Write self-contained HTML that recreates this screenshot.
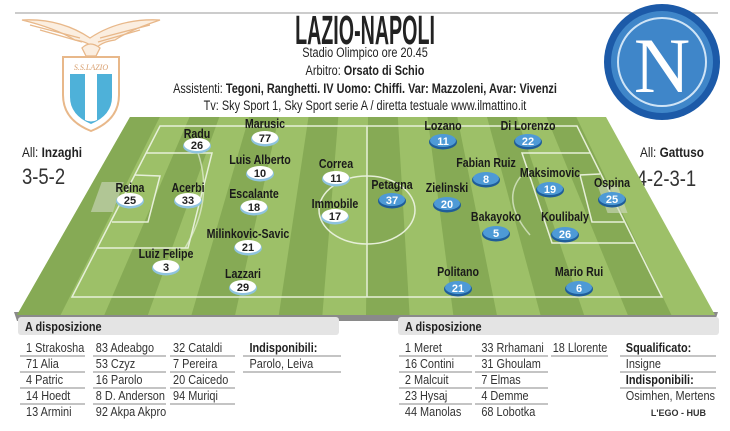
<!DOCTYPE html>
<html><head><meta charset="utf-8"><style>
html,body{margin:0;padding:0;background:#fff;}
svg{display:block;}
text{font-family:"Liberation Sans Narrow","Liberation Sans",sans-serif;}
.n{font-size:12.5px;font-weight:bold;fill:#1a1a1a;text-anchor:middle;}
.bw{font-size:11px;font-weight:bold;fill:#222;text-anchor:middle;}
.bb{font-size:11px;font-weight:bold;fill:#fff;text-anchor:middle;}
.t{font-size:13px;fill:#333;}
.h{font-size:14px;fill:#222;text-anchor:middle;}
</style></head><body>
<svg width="730" height="431" viewBox="0 0 730 431" xmlns="http://www.w3.org/2000/svg">
<line x1="15" y1="13" x2="718" y2="13" stroke="#bbb" stroke-width="1.5"/>
<!-- Lazio logo -->
<g fill="none" stroke="#e8b88a" stroke-width="1.3">
<path d="M22 20 Q60 18 90 38 Q120 18 160 20 Q130 30 115 40 Q100 42 95 50 Q90 42 75 40 Q55 28 22 20Z" fill="#fbeee0"/>
<path d="M30 25 L80 38 M40 30 L82 42 M150 25 L100 38 M140 30 L98 42"/>
<path d="M82 48 Q90 40 100 48 L96 56 L86 56Z" fill="#fbeee0"/>
<path d="M63 57 L119 57 L119 95 Q119 120 91 131 Q63 120 63 95Z" fill="#fff" stroke="#e8b88a" stroke-width="2"/>
</g>
<text x="91" y="70" font-size="8" font-style="italic" fill="#d9a070" text-anchor="middle" style="font-family:'Liberation Serif',serif">S.S.LAZIO</text>
<path d="M70 74 L112 74 L112 97 Q112 115 91 124 Q70 115 70 97Z" fill="#4eb1d9"/>
<path d="M85 74 L97 74 L97 120 Q91 123 85 120Z" fill="#fff"/>
<!-- Napoli logo -->
<circle cx="662" cy="62" r="58" fill="#1c5aa8"/>
<circle cx="662" cy="62" r="51" fill="#3f86c9"/>
<circle cx="662" cy="62" r="44" fill="none" stroke="#cfe4f6" stroke-width="2"/>
<text x="662" y="92" font-size="78" fill="#fff" text-anchor="middle" style="font-family:'Liberation Serif',serif">N</text>
<!-- title -->
<text x="365" y="44" font-size="41" font-weight="bold" fill="#222" text-anchor="middle" transform="translate(365,0) scale(0.48,1) translate(-365,0)">LAZIO-NAPOLI</text>
<g transform="translate(365,0) scale(0.78,1) translate(-365,0)">
<text class="h" x="365" y="57">Stadio Olimpico ore 20.45</text>
<text class="h" x="365" y="75">Arbitro: <tspan font-weight="bold">Orsato di Schio</tspan></text>
<text class="h" x="365" y="93">Assistenti: <tspan font-weight="bold">Tegoni, Ranghetti. IV Uomo: Chiffi. Var: Mazzoleni, Avar: Vivenzi</tspan></text>
<text class="h" x="365" y="110">Tv: Sky Sport 1, Sky Sport serie A / diretta testuale www.ilmattino.it</text>
</g>
<!-- coaches -->
<g transform="translate(22,0) scale(0.84,1)">
<text x="0" y="157" font-size="14" fill="#222">All: <tspan font-weight="bold">Inzaghi</tspan></text>
<text x="0" y="184" font-size="22" fill="#333">3-5-2</text></g>
<g transform="translate(640,0) scale(0.84,1)">
<text x="0" y="157" font-size="14" fill="#222">All: <tspan font-weight="bold">Gattuso</tspan></text>
<text x="-4" y="186" font-size="22" fill="#333">4-2-3-1</text></g>
<!-- pitch -->
<polygon points="14,312 17,321 715,321 718,312" fill="#8a8a8a"/>
<g id="pitch">
<polygon points="130,117 606,117 715,315 17,315" fill="#9dc068"/>
<polygon points="130.0,117 159.8,117 60.6,315 17.0,315" fill="#86aa55"/>
<polygon points="189.5,117 219.3,117 147.9,315 104.3,315" fill="#86aa55"/>
<polygon points="249.0,117 278.8,117 235.1,315 191.5,315" fill="#86aa55"/>
<polygon points="308.5,117 338.3,117 322.4,315 278.8,315" fill="#86aa55"/>
<polygon points="368.0,117 397.8,117 409.6,315 366.0,315" fill="#86aa55"/>
<polygon points="427.5,117 457.3,117 496.9,315 453.3,315" fill="#86aa55"/>
<polygon points="487.0,117 516.8,117 584.1,315 540.5,315" fill="#86aa55"/>
<polygon points="546.5,117 576.3,117 671.4,315 627.8,315" fill="#86aa55"/>
</g>
<g fill="none" stroke="#e6efd8" stroke-width="1.5">
<polygon points="160,126 577,126 662,297 72,297"/>
<line x1="367" y1="126" x2="367" y2="297"/>
<ellipse cx="367" cy="210" rx="48" ry="34"/>
<polyline points="146,153 212,153 188,248 97,248"/>
<polyline points="135,175 160,176 148,222 112,222"/>
<polyline points="590,153 522,153 552,243 635,243"/>
<polyline points="600,174 580,175 592,222 624,222"/>
<path d="M198 153 Q214 200 185 248" opacity=".7"/>
<path d="M522 175 Q500 200 530 235" opacity=".7"/>
</g>
<rect x="98" y="182" width="22" height="30" fill="#cfd8c0" opacity=".6" transform="skewX(-20) translate(70,0)"/>
<rect x="600" y="185" width="20" height="28" fill="#cfd8c0" opacity=".6" transform="skewX(20) translate(-70,0)"/>
<!-- Lazio players -->
<g id="laz">
<g transform="translate(197,0)"><text class="n" x="0" y="138" transform="scale(.85,1)">Radu</text><ellipse cx="0" cy="146" rx="14" ry="7.5" fill="#8fc3de"/><ellipse cx="0" cy="144.5" rx="13" ry="6.5" fill="#fff"/><text class="bw" x="0" y="149">26</text></g>
<g transform="translate(265,0)"><text class="n" x="0" y="128" transform="scale(.85,1)">Marusic</text><ellipse cx="0" cy="139" rx="14" ry="7.5" fill="#8fc3de"/><ellipse cx="0" cy="137.5" rx="13" ry="6.5" fill="#fff"/><text class="bw" x="0" y="142">77</text></g>
<g transform="translate(260,0)"><text class="n" x="0" y="164" transform="scale(.85,1)">Luis Alberto</text><ellipse cx="0" cy="174" rx="14" ry="7.5" fill="#8fc3de"/><ellipse cx="0" cy="172.5" rx="13" ry="6.5" fill="#fff"/><text class="bw" x="0" y="177">10</text></g>
<g transform="translate(336,0)"><text class="n" x="0" y="168" transform="scale(.85,1)">Correa</text><ellipse cx="0" cy="179" rx="14" ry="7.5" fill="#8fc3de"/><ellipse cx="0" cy="177.5" rx="13" ry="6.5" fill="#fff"/><text class="bw" x="0" y="182">11</text></g>
<g transform="translate(130,0)"><text class="n" x="0" y="192" transform="scale(.85,1)">Reina</text><ellipse cx="0" cy="201" rx="14" ry="7.5" fill="#8fc3de"/><ellipse cx="0" cy="199.5" rx="13" ry="6.5" fill="#fff"/><text class="bw" x="0" y="204">25</text></g>
<g transform="translate(188,0)"><text class="n" x="0" y="192" transform="scale(.85,1)">Acerbi</text><ellipse cx="0" cy="201" rx="14" ry="7.5" fill="#8fc3de"/><ellipse cx="0" cy="199.5" rx="13" ry="6.5" fill="#fff"/><text class="bw" x="0" y="204">33</text></g>
<g transform="translate(254,0)"><text class="n" x="0" y="198" transform="scale(.85,1)">Escalante</text><ellipse cx="0" cy="208" rx="14" ry="7.5" fill="#8fc3de"/><ellipse cx="0" cy="206.5" rx="13" ry="6.5" fill="#fff"/><text class="bw" x="0" y="211">18</text></g>
<g transform="translate(335,0)"><text class="n" x="0" y="208" transform="scale(.85,1)">Immobile</text><ellipse cx="0" cy="217" rx="14" ry="7.5" fill="#8fc3de"/><ellipse cx="0" cy="215.5" rx="13" ry="6.5" fill="#fff"/><text class="bw" x="0" y="220">17</text></g>
<g transform="translate(248,0)"><text class="n" x="0" y="238" transform="scale(.85,1)">Milinkovic-Savic</text><ellipse cx="0" cy="248" rx="14" ry="7.5" fill="#8fc3de"/><ellipse cx="0" cy="246.5" rx="13" ry="6.5" fill="#fff"/><text class="bw" x="0" y="251">21</text></g>
<g transform="translate(166,0)"><text class="n" x="0" y="258" transform="scale(.85,1)">Luiz Felipe</text><ellipse cx="0" cy="268" rx="14" ry="7.5" fill="#8fc3de"/><ellipse cx="0" cy="266.5" rx="13" ry="6.5" fill="#fff"/><text class="bw" x="0" y="271">3</text></g>
<g transform="translate(243,0)"><text class="n" x="0" y="278" transform="scale(.85,1)">Lazzari</text><ellipse cx="0" cy="288" rx="14" ry="7.5" fill="#8fc3de"/><ellipse cx="0" cy="286.5" rx="13" ry="6.5" fill="#fff"/><text class="bw" x="0" y="291">29</text></g>
</g>
<!-- Napoli players -->
<g>
<g transform="translate(443,0)"><text class="n" x="0" y="130" transform="scale(.85,1)">Lozano</text><ellipse cx="0" cy="142" rx="14" ry="7.5" fill="#1f5d99"/><ellipse cx="0" cy="140.5" rx="13" ry="6.5" fill="#4e9ad6"/><text class="bb" x="0" y="145">11</text></g>
<g transform="translate(528,0)"><text class="n" x="0" y="130" transform="scale(.85,1)">Di Lorenzo</text><ellipse cx="0" cy="142" rx="14" ry="7.5" fill="#1f5d99"/><ellipse cx="0" cy="140.5" rx="13" ry="6.5" fill="#4e9ad6"/><text class="bb" x="0" y="145">22</text></g>
<g transform="translate(486,0)"><text class="n" x="0" y="167" transform="scale(.85,1)">Fabian Ruiz</text><ellipse cx="0" cy="180" rx="14" ry="7.5" fill="#1f5d99"/><ellipse cx="0" cy="178.5" rx="13" ry="6.5" fill="#4e9ad6"/><text class="bb" x="0" y="183">8</text></g>
<g transform="translate(550,0)"><text class="n" x="0" y="177" transform="scale(.85,1)">Maksimovic</text><ellipse cx="0" cy="190" rx="14" ry="7.5" fill="#1f5d99"/><ellipse cx="0" cy="188.5" rx="13" ry="6.5" fill="#4e9ad6"/><text class="bb" x="0" y="193">19</text></g>
<g transform="translate(612,0)"><text class="n" x="0" y="187" transform="scale(.85,1)">Ospina</text><ellipse cx="0" cy="200" rx="14" ry="7.5" fill="#1f5d99"/><ellipse cx="0" cy="198.5" rx="13" ry="6.5" fill="#4e9ad6"/><text class="bb" x="0" y="203">25</text></g>
<g transform="translate(392,0)"><text class="n" x="0" y="189" transform="scale(.85,1)">Petagna</text><ellipse cx="0" cy="201" rx="14" ry="7.5" fill="#1f5d99"/><ellipse cx="0" cy="199.5" rx="13" ry="6.5" fill="#4e9ad6"/><text class="bb" x="0" y="204">37</text></g>
<g transform="translate(447,0)"><text class="n" x="0" y="192" transform="scale(.85,1)">Zielinski</text><ellipse cx="0" cy="205" rx="14" ry="7.5" fill="#1f5d99"/><ellipse cx="0" cy="203.5" rx="13" ry="6.5" fill="#4e9ad6"/><text class="bb" x="0" y="208">20</text></g>
<g transform="translate(496,0)"><text class="n" x="0" y="221" transform="scale(.85,1)">Bakayoko</text><ellipse cx="0" cy="234" rx="14" ry="7.5" fill="#1f5d99"/><ellipse cx="0" cy="232.5" rx="13" ry="6.5" fill="#4e9ad6"/><text class="bb" x="0" y="237">5</text></g>
<g transform="translate(565,0)"><text class="n" x="0" y="221" transform="scale(.85,1)">Koulibaly</text><ellipse cx="0" cy="235" rx="14" ry="7.5" fill="#1f5d99"/><ellipse cx="0" cy="233.5" rx="13" ry="6.5" fill="#4e9ad6"/><text class="bb" x="0" y="238">26</text></g>
<g transform="translate(458,0)"><text class="n" x="0" y="276" transform="scale(.85,1)">Politano</text><ellipse cx="0" cy="289" rx="14" ry="7.5" fill="#1f5d99"/><ellipse cx="0" cy="287.5" rx="13" ry="6.5" fill="#4e9ad6"/><text class="bb" x="0" y="292">21</text></g>
<g transform="translate(579,0)"><text class="n" x="0" y="276" transform="scale(.85,1)">Mario Rui</text><ellipse cx="0" cy="289" rx="14" ry="7.5" fill="#1f5d99"/><ellipse cx="0" cy="287.5" rx="13" ry="6.5" fill="#4e9ad6"/><text class="bb" x="0" y="292">6</text></g>
</g>
<!-- bottom bars -->
<rect x="18" y="317" width="321" height="18" rx="3" fill="#e4e4e4"/>
<rect x="398" y="317" width="321" height="18" rx="3" fill="#e4e4e4"/>
<text x="25" y="331" font-size="13" font-weight="bold" fill="#222" transform="translate(25,0) scale(.84,1) translate(-25,0)">A disposizione</text>
<text x="405" y="331" font-size="13" font-weight="bold" fill="#222" transform="translate(405,0) scale(.84,1) translate(-405,0)">A disposizione</text>
<g stroke="#888" stroke-width="1">
<line x1="20" y1="356" x2="85" y2="356"/><line x1="20" y1="372" x2="85" y2="372"/><line x1="20" y1="388" x2="85" y2="388"/><line x1="20" y1="404" x2="85" y2="404"/>
<line x1="93" y1="356" x2="166" y2="356"/><line x1="93" y1="372" x2="166" y2="372"/><line x1="93" y1="388" x2="166" y2="388"/><line x1="93" y1="404" x2="166" y2="404"/>
<line x1="170" y1="356" x2="235" y2="356"/><line x1="170" y1="372" x2="235" y2="372"/><line x1="170" y1="388" x2="235" y2="388"/><line x1="170" y1="404" x2="235" y2="404"/>
<line x1="243" y1="356" x2="341" y2="356"/><line x1="243" y1="372" x2="341" y2="372"/>
<line x1="399" y1="356" x2="472" y2="356"/><line x1="399" y1="372" x2="472" y2="372"/><line x1="399" y1="388" x2="472" y2="388"/><line x1="399" y1="404" x2="472" y2="404"/>
<line x1="475" y1="356" x2="548" y2="356"/><line x1="475" y1="372" x2="548" y2="372"/><line x1="475" y1="388" x2="548" y2="388"/><line x1="475" y1="404" x2="548" y2="404"/>
<line x1="551" y1="356" x2="608" y2="356"/>
<line x1="620" y1="356" x2="716" y2="356"/><line x1="620" y1="372" x2="716" y2="372"/><line x1="620" y1="388" x2="716" y2="388"/>
</g>
<g class="t" transform="scale(.84,1)">
<g transform="translate(31,0)"><text y="352">1 Strakosha</text><text y="368">71 Alia</text><text y="384">4 Patric</text><text y="400">14 Hoedt</text><text y="416">13 Armini</text></g>
<g transform="translate(114,0)"><text y="352">83 Adeabgo</text><text y="368">53 Czyz</text><text y="384">16 Parolo</text><text y="400">8 D. Anderson</text><text y="416">92 Akpa Akpro</text></g>
<g transform="translate(206,0)"><text y="352">32 Cataldi</text><text y="368">7 Pereira</text><text y="384">20 Caicedo</text><text y="400">94 Muriqi</text></g>
<g transform="translate(297,0)"><text y="352" font-weight="bold" fill="#222">Indisponibili:</text><text y="368">Parolo, Leiva</text></g>
<g transform="translate(482,0)"><text y="352">1 Meret</text><text y="368">16 Contini</text><text y="384">2 Malcuit</text><text y="400">23 Hysaj</text><text y="416">44 Manolas</text></g>
<g transform="translate(573,0)"><text y="352">33 Rrhamani</text><text y="368">31 Ghoulam</text><text y="384">7 Elmas</text><text y="400">4 Demme</text><text y="416">68 Lobotka</text></g>
<g transform="translate(658,0)"><text y="352">18 Llorente</text></g>
<g transform="translate(745,0)"><text y="352" font-weight="bold" fill="#222">Squalificato:</text><text y="368">Insigne</text><text y="384" font-weight="bold" fill="#222">Indisponibili:</text><text y="400">Osimhen, Mertens</text></g>
</g>
<text x="706" y="416" font-size="9" font-weight="bold" fill="#333" text-anchor="end" style="font-family:'Liberation Sans',sans-serif">L'EGO - HUB</text>
</svg>
</body></html>
